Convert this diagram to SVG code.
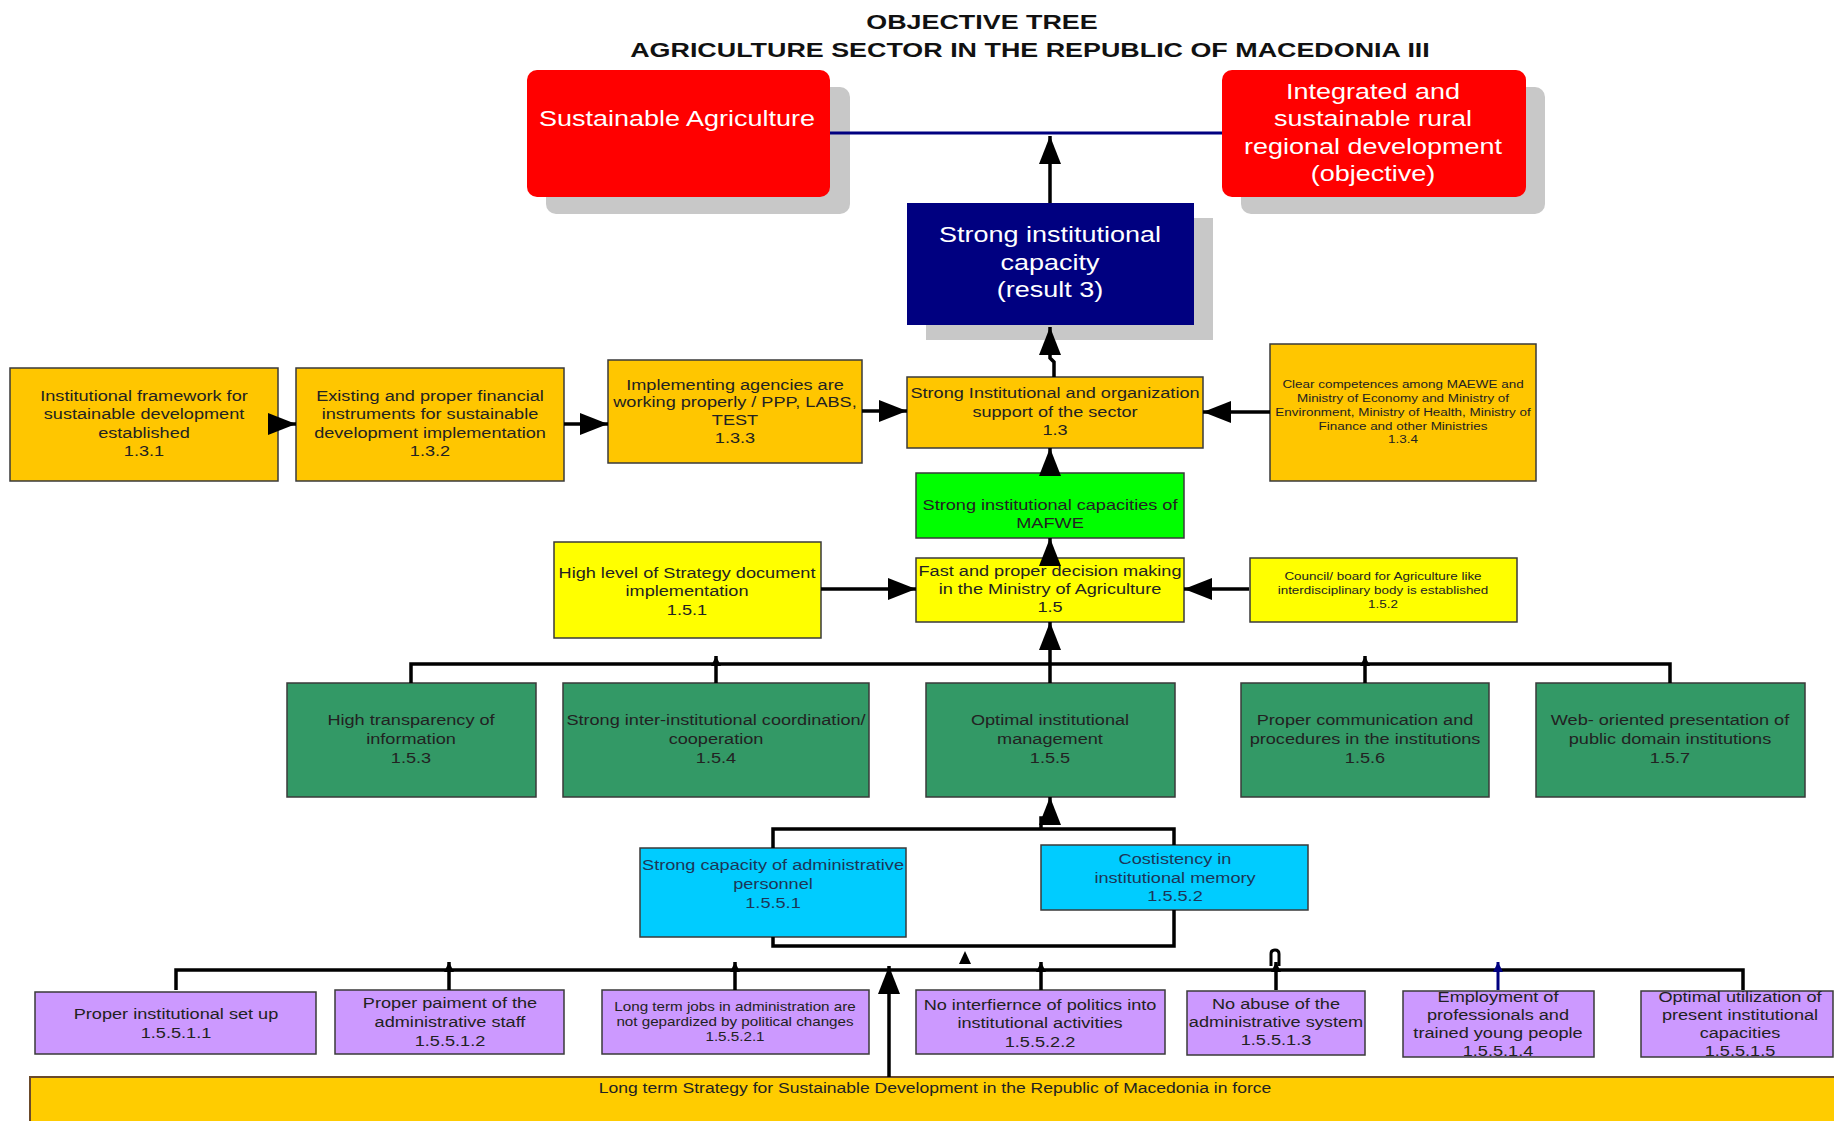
<svg xmlns="http://www.w3.org/2000/svg" width="1834" height="1121" viewBox="0 0 1834 1121">
<style>
text{font-family:"Liberation Sans",Arial,sans-serif;text-anchor:middle;fill:#222}
.ttl text{font-weight:bold;font-size:21px;fill:#111}
.big text{font-size:22.5px;fill:#fff}
.m text{font-size:15.5px}
.s text{font-size:11.5px}
.p13 text{font-size:13px}
.cy text{fill:#1c3658}
.box{stroke:#3a3a3a;stroke-width:1.5}
.or{fill:#ffc600}
.ye{fill:#ffff00}
.gr{fill:#00ff00}
.dg{fill:#339966}
.cyb{fill:#00ccff}
.pu{fill:#cc99ff}
.sh{fill:#c8c8c8}
.c{fill:none;stroke:#000;stroke-width:3.5}
</style>
<defs>
<marker id="ah" markerUnits="userSpaceOnUse" markerWidth="28" markerHeight="22" viewBox="0 0 28 22" refX="28" refY="11" orient="auto"><path d="M0,0 L28,11 L0,22 z" fill="#000"/></marker>
<marker id="sm" markerUnits="userSpaceOnUse" markerWidth="10" markerHeight="10" viewBox="0 0 10 10" refX="10" refY="5" orient="auto"><path d="M0,0 L10,5 L0,10 z" fill="#000"/></marker>
<marker id="smb" markerUnits="userSpaceOnUse" markerWidth="10" markerHeight="10" viewBox="0 0 10 10" refX="10" refY="5" orient="auto"><path d="M0,0 L10,5 L0,10 z" fill="#000080"/></marker>
</defs>
<rect width="1834" height="1121" fill="#fff"/>

<g id="title" class="ttl">
<g transform="translate(982 0) scale(1.28 1)"><text y="29">OBJECTIVE TREE</text></g>
<g transform="translate(1030 0) scale(1.28 1)"><text y="57">AGRICULTURE SECTOR IN THE REPUBLIC OF MACEDONIA III</text></g>
</g>

<g id="n_sust">
<rect class="sh" x="546" y="87" width="304" height="127" rx="10"/>
<rect x="527" y="70" width="303" height="127" rx="10" fill="#ff0000"/>
<g class="big" transform="translate(677 0) scale(1.2 1)"><text y="126">Sustainable Agriculture</text></g>
</g>

<g id="n_rural">
<rect class="sh" x="1241" y="87" width="304" height="127" rx="10"/>
<rect x="1222" y="70" width="304" height="127" rx="10" fill="#ff0000"/>
<g class="big" transform="translate(1373 0) scale(1.2 1)">
<text y="99">Integrated and</text><text y="126">sustainable rural</text><text y="154">regional development</text><text y="181">(objective)</text></g>
</g>

<g id="n_result3">
<rect class="sh" x="926" y="218" width="287" height="122"/>
<rect x="907" y="203" width="287" height="122" fill="#000080"/>
<g class="big" transform="translate(1050 0) scale(1.2 1)">
<text y="242">Strong institutional</text><text y="270">capacity</text><text y="297">(result 3)</text></g>
</g>

<g id="n131">
<rect class="box or" x="10" y="368" width="268" height="113"/>
<g class="m" transform="translate(144 0) scale(1.17 1)">
<text y="401">Institutional framework for</text><text y="419">sustainable development</text><text y="438">established</text><text y="456">1.3.1</text></g>
</g>
<g id="n132">
<rect class="box or" x="296" y="368" width="268" height="113"/>
<g class="m" transform="translate(430 0) scale(1.17 1)">
<text y="401">Existing and proper financial</text><text y="419">instruments for sustainable</text><text y="438">development implementation</text><text y="456">1.3.2</text></g>
</g>
<g id="n133">
<rect class="box or" x="608" y="360" width="254" height="103"/>
<g class="m" transform="translate(735 0) scale(1.17 1)">
<text y="390">Implementing agencies are</text><text y="407">working properly / PPP, LABS,</text><text y="425">TEST</text><text y="443">1.3.3</text></g>
</g>
<g id="n13">
<rect class="box or" x="907" y="377" width="296" height="71"/>
<g class="m" transform="translate(1055 0) scale(1.17 1)">
<text y="398">Strong Institutional and organization</text><text y="417">support of the sector</text><text y="435">1.3</text></g>
</g>
<g id="n134">
<rect class="box or" x="1270" y="344" width="266" height="137"/>
<g class="s" transform="translate(1403 0) scale(1.17 1)">
<text y="388">Clear competences among MAEWE and</text><text y="402">Ministry of Economy and Ministry of</text><text y="416">Environment, Ministry of Health, Ministry of</text><text y="430">Finance and other Ministries</text><text y="443">1.3.4</text></g>
</g>

<g id="n_mafwe">
<rect class="box gr" x="916" y="473" width="268" height="65"/>
<g class="m" transform="translate(1050 0) scale(1.17 1)">
<text y="510">Strong institutional capacities of</text><text y="528">MAFWE</text></g>
</g>
<g id="n15">
<rect class="box ye" x="916" y="558" width="268" height="64"/>
<g class="m" transform="translate(1050 0) scale(1.17 1)">
<text y="576">Fast and proper decision making</text><text y="594">in the Ministry of Agriculture</text><text y="612">1.5</text></g>
</g>
<g id="n151">
<rect class="box ye" x="554" y="542" width="267" height="96"/>
<g class="m" transform="translate(687 0) scale(1.17 1)">
<text y="578">High level of Strategy document</text><text y="596">implementation</text><text y="615">1.5.1</text></g>
</g>
<g id="n152">
<rect class="box ye" x="1250" y="558" width="267" height="64"/>
<g class="s" transform="translate(1383 0) scale(1.17 1)">
<text y="580">Council/ board for Agriculture like</text><text y="594">interdisciplinary body is established</text><text y="608">1.5.2</text></g>
</g>

<g id="n153">
<rect class="box dg" x="287" y="683" width="249" height="114"/>
<g class="m" transform="translate(411 0) scale(1.17 1)"><text y="725">High transparency of</text><text y="744">information</text><text y="763">1.5.3</text></g>
</g>
<g id="n154">
<rect class="box dg" x="563" y="683" width="306" height="114"/>
<g class="m" transform="translate(716 0) scale(1.17 1)"><text y="725">Strong inter-institutional coordination/</text><text y="744">cooperation</text><text y="763">1.5.4</text></g>
</g>
<g id="n155">
<rect class="box dg" x="926" y="683" width="249" height="114"/>
<g class="m" transform="translate(1050 0) scale(1.17 1)"><text y="725">Optimal institutional</text><text y="744">management</text><text y="763">1.5.5</text></g>
</g>
<g id="n156">
<rect class="box dg" x="1241" y="683" width="248" height="114"/>
<g class="m" transform="translate(1365 0) scale(1.17 1)"><text y="725">Proper communication and</text><text y="744">procedures in the institutions</text><text y="763">1.5.6</text></g>
</g>
<g id="n157">
<rect class="box dg" x="1536" y="683" width="269" height="114"/>
<g class="m" transform="translate(1670 0) scale(1.17 1)"><text y="725">Web- oriented presentation of</text><text y="744">public domain institutions</text><text y="763">1.5.7</text></g>
</g>

<g id="n1551">
<rect class="box cyb" x="640" y="848" width="266" height="89"/>
<g class="m cy" transform="translate(773 0) scale(1.17 1)"><text y="870">Strong capacity of administrative</text><text y="889">personnel</text><text y="908">1.5.5.1</text></g>
</g>
<g id="n1552">
<rect class="box cyb" x="1041" y="845" width="267" height="65"/>
<g class="m cy" transform="translate(1175 0) scale(1.17 1)"><text y="864">Costistency in</text><text y="883">institutional memory</text><text y="901">1.5.5.2</text></g>
</g>

<g id="n15511">
<rect class="box pu" x="35" y="992" width="281" height="62"/>
<g class="m" transform="translate(176 0) scale(1.17 1)"><text y="1019">Proper institutional set up</text><text y="1038">1.5.5.1.1</text></g>
</g>
<g id="n15512">
<rect class="box pu" x="335" y="990" width="229" height="64"/>
<g class="m" transform="translate(450 0) scale(1.17 1)"><text y="1008">Proper paiment of the</text><text y="1027">administrative staff</text><text y="1046">1.5.5.1.2</text></g>
</g>
<g id="n15521">
<rect class="box pu" x="602" y="990" width="267" height="64"/>
<g class="p13" transform="translate(735 0) scale(1.17 1)"><text y="1011">Long term jobs in administration are</text><text y="1026">not gepardized by political changes</text><text y="1041">1.5.5.2.1</text></g>
</g>
<g id="n15522">
<rect class="box pu" x="916" y="990" width="249" height="64"/>
<g class="m" transform="translate(1040 0) scale(1.17 1)"><text y="1010">No interfiernce of politics into</text><text y="1028">institutional activities</text><text y="1047">1.5.5.2.2</text></g>
</g>
<g id="n15513">
<rect class="box pu" x="1187" y="991" width="178" height="64"/>
<g class="m" transform="translate(1276 0) scale(1.17 1)"><text y="1009">No abuse of the</text><text y="1027">administrative system</text><text y="1045">1.5.5.1.3</text></g>
</g>
<g id="n15514">
<rect class="box pu" x="1403" y="991" width="191" height="66"/>
<g class="m" transform="translate(1498 0) scale(1.17 1)"><text y="1002">Employment of</text><text y="1020">professionals and</text><text y="1038">trained young people</text><text y="1056">1.5.5.1.4</text></g>
</g>
<g id="n15515">
<rect class="box pu" x="1641" y="991" width="192" height="66"/>
<g class="m" transform="translate(1740 0) scale(1.17 1)"><text y="1002">Optimal utilization of</text><text y="1020">present institutional</text><text y="1038">capacities</text><text y="1056">1.5.5.1.5</text></g>
</g>

<g id="n_strategy">
<rect x="30" y="1077" width="1812" height="45" fill="#ffcc00" stroke="#6b4a2a" stroke-width="2"/>
<g class="m" transform="translate(935 0) scale(1.17 1)"><text y="1093" style="font-size:15px">Long term Strategy for Sustainable Development in the Republic of Macedonia in force</text></g>
</g>

<g id="connectors">
<path d="M830,133 H1222" fill="none" stroke="#000080" stroke-width="3"/>
<path class="c" d="M1050,203 V136" marker-end="url(#ah)"/>
<path class="c" d="M1054,377 V362 L1050,358 V327" marker-end="url(#ah)"/>
<path class="c" d="M270,424 H296" marker-end="url(#ah)"/>
<path class="c" d="M564,424 H608" marker-end="url(#ah)"/>
<path class="c" d="M862,411 H907" marker-end="url(#ah)"/>
<path class="c" d="M1270,412 H1203" marker-end="url(#ah)"/>
<path class="c" d="M1050,473 V448" marker-end="url(#ah)"/>
<path class="c" d="M1050,566 V538" marker-end="url(#ah)"/>
<path class="c" d="M821,589 H916" marker-end="url(#ah)"/>
<path class="c" d="M1249,589 H1184" marker-end="url(#ah)"/>
<path class="c" d="M411,683 V664 H1670 V683"/>
<path class="c" d="M716,683 V656" marker-end="url(#sm)"/>
<path class="c" d="M1365,683 V656" marker-end="url(#sm)"/>
<path class="c" d="M1050,683 V622" marker-end="url(#ah)"/>
<path class="c" d="M773,848 V829 H1174 V845"/>
<path class="c" d="M1041,829 V818 H1050 V797" marker-end="url(#ah)"/>
<path class="c" d="M773,937 V946 H1174 V910"/>
<path d="M959,964 L965,951 L971,964 z" fill="#000"/>
<path class="c" d="M176,990 V970 H1743 V990"/>
<path class="c" d="M449,990 V962" marker-end="url(#sm)"/>
<path class="c" d="M735,990 V962" marker-end="url(#sm)"/>
<path class="c" d="M1041,990 V962" marker-end="url(#sm)"/>
<path class="c" d="M1276,990 V962" marker-end="url(#sm)"/>
<path d="M1271,966 V954 Q1271,950 1275,950 Q1279,950 1279,954 V966" fill="none" stroke="#000" stroke-width="3"/>
<path d="M1498,990 V962" fill="none" stroke="#000080" stroke-width="3" marker-end="url(#smb)"/>
<path class="c" d="M889,1077 V966" marker-end="url(#ah)"/>
</g>
</svg>
